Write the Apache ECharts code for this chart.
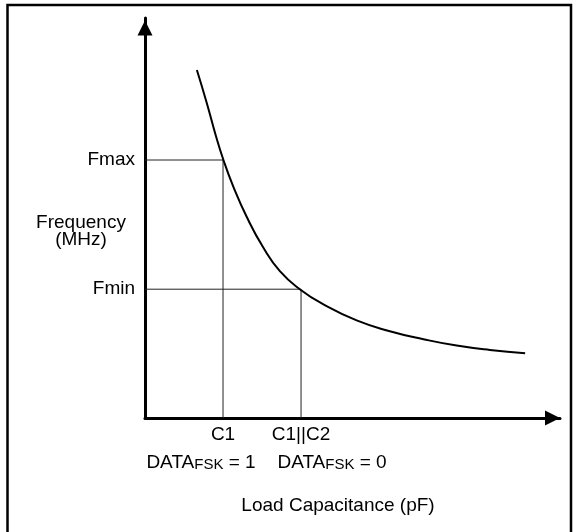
<!DOCTYPE html>
<html><head><meta charset="utf-8">
<script src="https://cdn.jsdelivr.net/npm/echarts@6/dist/echarts.min.js"></script>
<style>html,body{margin:0;padding:0;background:#fff}#c{width:575px;height:532px}</style>
</head><body><div id="c"></div>
<script>
// Curve: frequency vs load capacitance (arbitrary units, 0-100)
const capacitance = [12.5, 14.9, 16.9, 18.9, 21.3, 24.5, 28.5, 32.5, 37.3, 43.0, 51.0, 59.0, 67.1, 75.1, 83.1, 91.6];
const frequency  = [87.0, 78.7, 71.2, 64.5, 57.8, 50.3, 42.6, 36.7, 32.2, 28.4, 24.4, 21.7, 19.7, 18.1, 17.0, 16.2];
const capMarks  = [18.8, 37.6];          // C1, C1||C2
const freqMarks = [64.5, 32.2];          // Fmax, Fmin
const capLabels  = ['C1', 'C1||C2'];
const freqLabels = ['Fmax', 'Fmin'];
const dataFskValues = ['1', '0'];
const yName = 'Frequency\n(MHz)';
const xName = 'Load Capacitance (pF)';

const FONT = '"Liberation Sans", Arial, Helvetica, sans-serif';
const chart = echarts.init(document.getElementById('c'), null, {renderer: 'canvas'});
const TRI = 'path://M10,0 L20,20 L0,20 Z';

const series = [];
series.push({
  type: 'line', smooth: 0.5, symbol: 'none', silent: true, z: 5,
  data: capacitance.map((c, i) => [c, frequency[i]]),
  lineStyle: {color: '#000', width: 2}
});
capMarks.forEach((c, i) => {
  series.push({
    type: 'line', symbol: 'none', silent: true, z: 3,
    data: [[0, freqMarks[i]], [c, freqMarks[i]], [c, 0]],
    lineStyle: {color: '#222', width: 1}
  });
});
series.push({
  type: 'scatter', symbolSize: 0, silent: true, itemStyle: {opacity: 1},
  data: freqMarks.map((f, i) => ({value: [0, f], name: freqLabels[i]})),
  label: {show: true, position: 'left', distance: 10, formatter: p => p.name,
          color: '#000', fontSize: 19, fontFamily: FONT}
});
series.push({
  type: 'scatter', symbolSize: 0, silent: true, itemStyle: {opacity: 1},
  data: capMarks.map((c, i) => ({value: [c, 0], name: capLabels[i]})),
  label: {show: true, position: 'bottom', distance: 7, formatter: p => p.name,
          color: '#000', fontSize: 19, fontFamily: FONT}
});
const fskOffsets = [[-22, 28], [31, 28]];
capMarks.forEach((c, i) => {
  series.push({
    type: 'scatter', symbolSize: 0, silent: true, itemStyle: {opacity: 1},
    data: [{value: [c, 0], name: dataFskValues[i]}],
    label: {show: true, position: 'bottom', distance: 7, offset: fskOffsets[i],
      formatter: p => '{d|DATA}{s|FSK}{d| = ' + p.name + '}',
      rich: {
        d: {fontSize: 19, fontFamily: FONT, color: '#000', verticalAlign: 'bottom', lineHeight: 19},
        s: {fontSize: 15, fontFamily: FONT, color: '#000', verticalAlign: 'bottom', lineHeight: 18}
      }}
  });
});

chart.setOption({
  animation: false,
  backgroundColor: '#fff',
  grid: {left: 145, right: 15, top: 18, bottom: 114, containLabel: false},
  xAxis: {
    type: 'value', min: 0, max: 100,
    axisLine: {show: true, onZero: false, symbol: ['none', TRI], symbolSize: [21, 15], symbolOffset: [0, -7.5],
               lineStyle: {color: '#000', width: 3}},
    axisTick: {show: false}, axisLabel: {show: false}, splitLine: {show: false}
  },
  yAxis: {
    type: 'value', min: 0, max: 100,
    axisLine: {show: true, onZero: false, symbol: ['none', TRI], symbolSize: [15, 20], symbolOffset: [0, -10],
               lineStyle: {color: '#000', width: 3}},
    axisTick: {show: false}, axisLabel: {show: false}, splitLine: {show: false}
  },
  graphic: [
    {type: 'rect', shape: {x: 7.5, y: 5, width: 563.5, height: 560},
     style: {fill: 'none', stroke: '#000', lineWidth: 2.5}, silent: true},
    {type: 'text', x: 81, y: 231,
     style: {text: yName, fontSize: 19, lineHeight: 17, fontFamily: FONT, fill: '#000',
             align: 'center', verticalAlign: 'middle'}},
    {type: 'text', x: 338, y: 506,
     style: {text: xName, fontSize: 19, fontFamily: FONT, fill: '#000',
             align: 'center', verticalAlign: 'middle'}}
  ],
  series: series
});
</script></body></html>
